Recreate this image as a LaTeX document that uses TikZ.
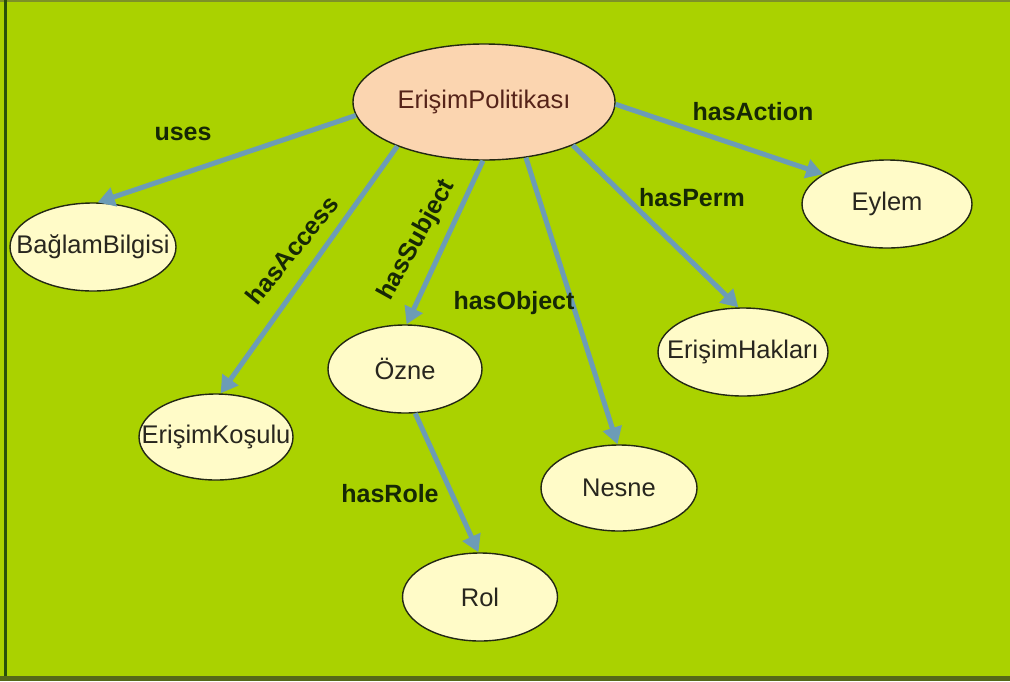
\documentclass[tikz,border=0pt]{standalone}
\usepackage{fontspec}
\setmainfont{Liberation Sans}
\usetikzlibrary{shapes.geometric,arrows.meta}

\definecolor{bggreen}{RGB}{170,210,0}
\definecolor{leftrule}{RGB}{40,80,10}
\definecolor{bottomband}{RGB}{85,105,25}
\definecolor{toprule}{RGB}{125,145,40}
\definecolor{nodeyellow}{RGB}{255,251,200}
\definecolor{nodepeach}{RGB}{251,213,176}
\definecolor{edgedark}{RGB}{35,40,20}
\definecolor{nodetext}{RGB}{40,38,30}
\definecolor{poltext}{RGB}{85,35,25}
\definecolor{arrowblue}{RGB}{108,156,182}
\definecolor{labeldark}{RGB}{22,40,5}

\begin{document}
\begin{tikzpicture}[x=1pt,y=-1pt,
  concept/.style={ellipse, draw=edgedark, line width=1.4pt, fill=nodeyellow, inner sep=0pt},
  conceptlabel/.style={font=\fontsize{25.5}{30}\selectfont, text=nodetext, inner sep=0pt},
  rel/.style={draw=arrowblue, line width=5pt, -{Triangle[length=17pt,width=19pt]}},
  rellabel/.style={font=\bfseries\fontsize{25}{30}\selectfont, text=labeldark, inner sep=0pt}]

% page and frame
\useasboundingbox (0,0) rectangle (1010,681);
\fill[bggreen] (0,0) rectangle (1010,681);
\fill[toprule] (0,0) rectangle (1010,1.5);
\fill[leftrule] (4,0) rectangle (7,681);
\fill[bottomband] (0,676) rectangle (1010,681);

% concepts
\node[concept, fill=nodepeach, minimum width=262pt, minimum height=116pt] (pol) at (484,102) {};
\node[concept, minimum width=166pt, minimum height=88pt] (bag) at (93,247) {};
\node[concept, minimum width=154pt, minimum height=86pt] (kos) at (216,437) {};
\node[concept, minimum width=154pt, minimum height=88pt] (ozne) at (405,369) {};
\node[concept, minimum width=155pt, minimum height=88pt] (rol) at (480,597) {};
\node[concept, minimum width=156pt, minimum height=86pt] (nesne) at (619,488) {};
\node[concept, minimum width=170pt, minimum height=88pt] (hak) at (743,352) {};
\node[concept, minimum width=170pt, minimum height=88pt] (eylem) at (887,204) {};

% concept names
\node[conceptlabel, text=poltext] (tpol) at (pol) {ErişimPolitikası};
\node[conceptlabel] (tbag) at (bag) {BağlamBilgisi};
\node[conceptlabel] (tkos) at (kos) {ErişimKoşulu};
\node[conceptlabel] (tozne) at (ozne) {Özne};
\node[conceptlabel] (trol) at (rol) {Rol};
\node[conceptlabel] (tnesne) at (nesne) {Nesne};
\node[conceptlabel] (thak) at (hak) {ErişimHakları};
\node[conceptlabel] (teylem) at (eylem) {Eylem};

% relations
\draw[rel] (pol.186) -- (bag.84);
\draw[rel] (pol.207) -- (kos.84);
\draw[rel] (pol.269) -- (ozne.88);
\draw[rel] (pol.307) -- (nesne.92);
\draw[rel] (pol.334) -- (hak.96);
\draw[rel] (pol.359) -- (eylem.155);
\draw[rel] (ozne.283) -- (rol.92);

% relation names
\node[rellabel] (luses) at (183,134) {uses};
\node[rellabel, rotate=51] (lacc) at (292,250) {hasAccess};
\node[rellabel, rotate=61] (lsub) at (417,240) {hasSubject};
\node[rellabel] (lobj) at (514,303) {hasObject};
\node[rellabel] (lperm) at (692,198) {hasPerm};
\node[rellabel] (lact) at (753,112) {hasAction};
\node[rellabel] (lrole) at (390,494) {hasRole};
\end{tikzpicture}
\end{document}
